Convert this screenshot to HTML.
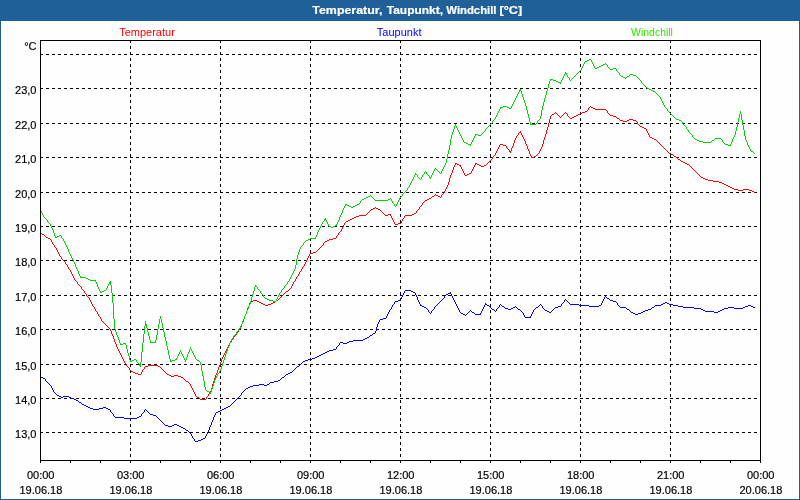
<!DOCTYPE html>
<html lang="de"><head><meta charset="utf-8"><title>Temperatur, Taupunkt, Windchill [°C]</title>
<style>
html,body{margin:0;padding:0;background:#fdfefd;}
body{width:800px;height:500px;overflow:hidden;}
svg{display:block;}
text{font-family:"Liberation Sans",sans-serif;font-size:11px;}
.t{font-weight:bold;fill:#fff;stroke:#fff;stroke-width:0.2px;}
.k text{fill:#000;stroke:#000;stroke-width:0.18px;}
.g{stroke:#000;stroke-width:1;stroke-dasharray:3 3;fill:none;}
.a{stroke:#000;stroke-width:1;fill:none;}
</style></head><body>
<svg width="800" height="500" viewBox="0 0 800 500">
<rect x="0" y="0" width="800" height="500" fill="#fdfefd"/>
<rect x="0" y="0" width="800" height="21" fill="#1f6099"/>
<rect x="0" y="20" width="800" height="1" fill="#1e5f96"/>
<rect x="0" y="21" width="1" height="479" fill="#1c5d95"/>
<rect x="799" y="21" width="1" height="479" fill="#1c5d95"/>
<rect x="0" y="499" width="800" height="1" fill="#1c5d95"/>
<text class="t" transform="translate(312.3 14) scale(1.129 1)">Temperatur,</text>
<text class="t" transform="translate(386.8 14) scale(1.088 1)">Taupunkt,</text>
<text class="t" transform="translate(446.3 14) scale(1.03 1)">Windchill</text>
<text class="t" transform="translate(499.6 14) scale(1.15 1)">[°C]</text>
<text x="147" y="36" text-anchor="middle" fill="#ff0000">Temperatur</text>
<text x="399.2" y="36" text-anchor="middle" fill="#0000ff">Taupunkt</text>
<text transform="translate(652 36) scale(0.95 1)" x="0" y="0" text-anchor="middle" fill="#2fe400">Windchill</text>
<g shape-rendering="crispEdges">
<line class="g" x1="40" y1="54.5" x2="761" y2="54.5"/>
<line class="g" x1="40" y1="88.5" x2="761" y2="88.5"/>
<line class="g" x1="40" y1="123.5" x2="761" y2="123.5"/>
<line class="g" x1="40" y1="157.5" x2="761" y2="157.5"/>
<line class="g" x1="40" y1="192.5" x2="761" y2="192.5"/>
<line class="g" x1="40" y1="226.5" x2="761" y2="226.5"/>
<line class="g" x1="40" y1="260.5" x2="761" y2="260.5"/>
<line class="g" x1="40" y1="295.5" x2="761" y2="295.5"/>
<line class="g" x1="40" y1="329.5" x2="761" y2="329.5"/>
<line class="g" x1="40" y1="364.5" x2="761" y2="364.5"/>
<line class="g" x1="40" y1="398.5" x2="761" y2="398.5"/>
<line class="g" x1="40" y1="432.5" x2="761" y2="432.5"/>
<line class="g" x1="130.5" y1="40" x2="130.5" y2="461"/>
<line class="g" x1="220.5" y1="40" x2="220.5" y2="461"/>
<line class="g" x1="310.5" y1="40" x2="310.5" y2="461"/>
<line class="g" x1="400.5" y1="40" x2="400.5" y2="461"/>
<line class="g" x1="490.5" y1="40" x2="490.5" y2="461"/>
<line class="g" x1="580.5" y1="40" x2="580.5" y2="461"/>
<line class="g" x1="670.5" y1="40" x2="670.5" y2="461"/>
<rect x="40" y="460" width="1" height="3" fill="#000"/>
<rect x="70" y="460" width="1" height="3" fill="#000"/>
<rect x="100" y="460" width="1" height="3" fill="#000"/>
<rect x="130" y="460" width="1" height="3" fill="#000"/>
<rect x="160" y="460" width="1" height="3" fill="#000"/>
<rect x="190" y="460" width="1" height="3" fill="#000"/>
<rect x="220" y="460" width="1" height="3" fill="#000"/>
<rect x="250" y="460" width="1" height="3" fill="#000"/>
<rect x="280" y="460" width="1" height="3" fill="#000"/>
<rect x="310" y="460" width="1" height="3" fill="#000"/>
<rect x="340" y="460" width="1" height="3" fill="#000"/>
<rect x="370" y="460" width="1" height="3" fill="#000"/>
<rect x="400" y="460" width="1" height="3" fill="#000"/>
<rect x="430" y="460" width="1" height="3" fill="#000"/>
<rect x="460" y="460" width="1" height="3" fill="#000"/>
<rect x="490" y="460" width="1" height="3" fill="#000"/>
<rect x="520" y="460" width="1" height="3" fill="#000"/>
<rect x="550" y="460" width="1" height="3" fill="#000"/>
<rect x="580" y="460" width="1" height="3" fill="#000"/>
<rect x="610" y="460" width="1" height="3" fill="#000"/>
<rect x="640" y="460" width="1" height="3" fill="#000"/>
<rect x="670" y="460" width="1" height="3" fill="#000"/>
<rect x="700" y="460" width="1" height="3" fill="#000"/>
<rect x="730" y="460" width="1" height="3" fill="#000"/>
<rect x="760" y="460" width="1" height="3" fill="#000"/>
<path fill="#ff0000" d="M40 232h1v1h-1zM41 233h1v1h-1zM42 234h2v1h-2zM44 235h1v1h-1zM45 236h1v1h-1zM46 237h2v1h-2zM48 238h2v1h-2zM50 239h1v1h-1zM51 240h1v2h-1zM52 242h1v2h-1zM53 244h1v1h-1zM54 245h1v2h-1zM55 247h1v1h-1zM56 248h1v2h-1zM57 250h1v2h-1zM58 252h1v2h-1zM59 254h1v2h-1zM60 256h1v1h-1zM61 257h1v2h-1zM62 259h1v1h-1zM63 260h1v1h-1zM64 261h1v1h-1zM65 262h1v2h-1zM66 264h1v1h-1zM67 265h1v2h-1zM68 267h1v2h-1zM69 269h1v1h-1zM70 270h1v2h-1zM71 272h1v2h-1zM72 274h1v2h-1zM73 276h1v2h-1zM74 278h1v2h-1zM75 280h1v1h-1zM76 281h1v1h-1zM77 282h1v2h-1zM78 284h1v1h-1zM79 285h1v1h-1zM80 286h1v1h-1zM81 287h1v2h-1zM82 289h1v1h-1zM83 290h1v1h-1zM84 291h1v2h-1zM85 293h1v1h-1zM86 294h1v2h-1zM87 296h1v1h-1zM88 297h1v1h-1zM89 298h1v2h-1zM90 300h1v2h-1zM91 302h1v2h-1zM92 304h1v2h-1zM93 306h1v1h-1zM94 307h1v2h-1zM95 309h1v2h-1zM96 311h1v1h-1zM97 312h1v2h-1zM98 314h1v2h-1zM99 316h1v1h-1zM100 317h1v2h-1zM101 319h1v2h-1zM102 321h1v1h-1zM103 322h1v1h-1zM104 323h1v1h-1zM105 324h1v1h-1zM106 325h1v1h-1zM107 326h1v1h-1zM108 327h1v1h-1zM109 328h1v1h-1zM110 329h1v2h-1zM111 331h1v3h-1zM112 334h1v2h-1zM113 336h1v3h-1zM114 339h1v3h-1zM115 342h1v2h-1zM116 344h1v3h-1zM117 347h1v2h-1zM118 349h1v2h-1zM119 351h1v2h-1zM120 353h1v2h-1zM121 355h1v2h-1zM122 357h1v2h-1zM123 359h1v2h-1zM124 361h1v2h-1zM125 363h1v1h-1zM126 364h1v2h-1zM127 366h1v1h-1zM128 367h1v1h-1zM129 368h1v2h-1zM130 370h1v1h-1zM131 371h2v1h-2zM133 372h2v1h-2zM135 373h3v1h-3zM138 374h3v1h-3zM141 372h1v2h-1zM142 370h1v2h-1zM143 369h1v1h-1zM144 367h1v2h-1zM145 366h3v1h-3zM148 365h10v1h-10zM158 366h2v1h-2zM160 367h1v1h-1zM161 368h1v1h-1zM162 369h1v1h-1zM163 370h1v1h-1zM164 371h1v1h-1zM165 372h1v1h-1zM166 373h1v1h-1zM167 374h2v1h-2zM169 375h2v1h-2zM171 376h3v1h-3zM174 375h4v1h-4zM178 376h3v1h-3zM181 377h2v1h-2zM183 378h1v1h-1zM184 379h1v1h-1zM185 380h1v1h-1zM186 381h2v1h-2zM188 382h1v1h-1zM189 383h1v1h-1zM190 384h1v2h-1zM191 386h1v2h-1zM192 388h1v2h-1zM193 390h1v2h-1zM194 392h1v2h-1zM195 394h1v2h-1zM196 396h1v1h-1zM197 397h2v1h-2zM199 398h1v1h-1zM200 399h6v1h-6zM206 397h1v2h-1zM207 396h1v1h-1zM208 394h1v2h-1zM209 393h1v1h-1zM210 391h1v2h-1zM211 388h1v3h-1zM212 384h1v4h-1zM213 381h1v3h-1zM214 378h1v3h-1zM215 375h1v3h-1zM216 373h1v2h-1zM217 370h1v3h-1zM218 367h1v3h-1zM219 365h1v2h-1zM220 362h1v3h-1zM221 359h1v3h-1zM222 357h1v2h-1zM223 355h1v2h-1zM224 353h1v2h-1zM225 351h1v2h-1zM226 349h1v2h-1zM227 347h1v2h-1zM228 345h1v2h-1zM229 343h1v2h-1zM230 342h1v1h-1zM231 340h1v2h-1zM232 339h1v1h-1zM233 337h1v2h-1zM234 336h1v1h-1zM235 335h1v1h-1zM236 333h1v2h-1zM237 332h1v1h-1zM238 330h1v2h-1zM239 329h1v1h-1zM240 327h1v2h-1zM241 324h1v3h-1zM242 322h1v2h-1zM243 319h1v3h-1zM244 316h1v3h-1zM245 314h1v2h-1zM246 311h1v3h-1zM247 308h1v3h-1zM248 306h1v2h-1zM249 303h1v3h-1zM250 301h3v1h-3zM250 302h1v1h-1zM253 300h4v1h-4zM257 301h2v1h-2zM259 302h2v1h-2zM261 303h2v1h-2zM263 304h2v1h-2zM265 305h3v1h-3zM268 304h3v1h-3zM271 303h2v1h-2zM273 302h2v1h-2zM275 301h1v1h-1zM276 300h2v1h-2zM278 299h1v1h-1zM279 298h1v1h-1zM280 297h1v1h-1zM281 296h1v1h-1zM282 295h1v1h-1zM283 294h1v1h-1zM284 293h1v1h-1zM285 292h1v1h-1zM286 291h2v1h-2zM288 290h1v1h-1zM289 289h1v1h-1zM290 288h1v1h-1zM291 286h1v2h-1zM292 284h1v2h-1zM293 282h1v2h-1zM294 281h1v1h-1zM295 279h1v2h-1zM296 277h1v2h-1zM297 276h1v1h-1zM298 274h1v2h-1zM299 272h1v2h-1zM300 271h1v1h-1zM301 269h1v2h-1zM302 267h1v2h-1zM303 266h1v1h-1zM304 264h1v2h-1zM305 262h1v2h-1zM306 260h1v2h-1zM307 258h1v2h-1zM308 256h1v2h-1zM309 254h1v2h-1zM310 253h3v1h-3zM313 252h3v1h-3zM316 251h1v1h-1zM317 250h1v1h-1zM318 249h1v1h-1zM319 248h1v1h-1zM320 247h1v1h-1zM321 246h1v1h-1zM322 245h1v1h-1zM323 243h1v2h-1zM324 242h1v1h-1zM325 241h2v1h-2zM327 240h2v1h-2zM329 239h4v1h-4zM333 238h3v1h-3zM336 236h1v2h-1zM337 235h1v1h-1zM338 233h1v2h-1zM339 232h1v1h-1zM340 231h1v1h-1zM341 229h1v2h-1zM342 227h1v2h-1zM343 225h1v2h-1zM344 223h1v2h-1zM345 222h1v1h-1zM346 221h2v1h-2zM348 220h2v1h-2zM350 219h2v1h-2zM352 218h2v1h-2zM354 217h2v1h-2zM356 216h3v1h-3zM359 215h7v1h-7zM366 214h1v1h-1zM367 213h1v1h-1zM368 212h1v1h-1zM369 211h1v1h-1zM370 210h1v1h-1zM371 209h2v1h-2zM373 208h2v1h-2zM375 207h1v1h-1zM376 208h2v1h-2zM378 209h2v1h-2zM380 210h1v1h-1zM381 211h1v1h-1zM382 212h1v1h-1zM383 213h1v1h-1zM384 214h1v1h-1zM385 215h3v1h-3zM388 214h3v1h-3zM390 215h1v1h-1zM391 216h1v2h-1zM392 218h1v2h-1zM393 220h1v2h-1zM394 222h1v2h-1zM395 224h3v1h-3zM398 223h3v1h-3zM401 221h1v2h-1zM402 219h1v2h-1zM403 218h1v1h-1zM404 216h1v2h-1zM405 215h7v1h-7zM412 214h2v1h-2zM414 213h2v1h-2zM416 211h1v2h-1zM417 210h1v1h-1zM418 209h1v1h-1zM419 207h1v2h-1zM420 206h1v1h-1zM421 205h1v1h-1zM422 203h1v2h-1zM423 202h1v1h-1zM424 201h1v1h-1zM425 200h2v1h-2zM427 199h2v1h-2zM429 198h2v1h-2zM431 197h1v1h-1zM432 196h2v1h-2zM434 195h1v1h-1zM435 194h1v1h-1zM436 195h2v1h-2zM438 196h2v1h-2zM440 197h1v1h-1zM441 195h1v2h-1zM442 194h1v1h-1zM443 193h1v1h-1zM444 191h1v2h-1zM445 189h1v2h-1zM446 187h1v2h-1zM447 185h1v2h-1zM448 182h1v3h-1zM449 178h1v4h-1zM450 175h1v3h-1zM451 173h1v2h-1zM452 170h1v3h-1zM453 167h1v3h-1zM454 165h1v2h-1zM455 163h2v1h-2zM455 164h1v1h-1zM457 164h2v1h-2zM459 165h2v1h-2zM460 166h1v1h-1zM461 167h1v2h-1zM462 169h1v2h-1zM463 171h1v2h-1zM464 173h1v2h-1zM465 175h2v1h-2zM467 174h2v1h-2zM469 173h2v1h-2zM471 171h1v2h-1zM472 169h1v2h-1zM473 167h1v2h-1zM474 165h1v2h-1zM475 163h2v1h-2zM475 164h1v1h-1zM477 164h2v1h-2zM479 165h2v1h-2zM481 166h3v1h-3zM484 165h2v1h-2zM486 164h1v1h-1zM487 163h1v1h-1zM488 162h1v1h-1zM489 161h1v1h-1zM490 160h1v1h-1zM491 159h1v1h-1zM492 157h1v2h-1zM493 156h1v1h-1zM494 155h1v1h-1zM495 153h1v2h-1zM496 151h1v2h-1zM497 149h1v2h-1zM498 147h1v2h-1zM499 145h1v2h-1zM500 144h3v1h-3zM503 145h3v1h-3zM506 146h1v2h-1zM507 148h1v1h-1zM508 149h1v1h-1zM509 150h1v1h-1zM509 151h2v1h-2zM510 152h1v1h-1zM511 148h1v3h-1zM512 146h1v2h-1zM513 143h1v3h-1zM514 140h1v3h-1zM515 138h1v2h-1zM516 136h1v2h-1zM517 135h1v1h-1zM518 133h1v2h-1zM519 132h2v1h-2zM520 131h1v1h-1zM521 133h1v2h-1zM522 135h1v2h-1zM523 137h1v2h-1zM524 139h1v2h-1zM525 141h1v3h-1zM526 144h1v2h-1zM527 146h1v3h-1zM528 149h1v2h-1zM529 151h1v3h-1zM530 154h1v2h-1zM531 156h1v1h-1zM531 157h3v1h-3zM534 156h2v1h-2zM536 155h1v1h-1zM537 154h1v1h-1zM538 153h1v1h-1zM539 151h1v2h-1zM540 149h1v2h-1zM541 147h1v2h-1zM542 144h1v3h-1zM543 140h1v4h-1zM544 137h1v3h-1zM545 134h1v3h-1zM546 130h1v4h-1zM547 127h1v3h-1zM548 123h1v4h-1zM549 119h1v4h-1zM550 116h1v3h-1zM551 115h1v1h-1zM552 114h2v1h-2zM554 113h1v1h-1zM555 112h1v1h-1zM556 113h1v1h-1zM557 114h1v1h-1zM558 115h1v1h-1zM559 116h1v1h-1zM560 117h1v1h-1zM561 116h1v1h-1zM562 115h1v1h-1zM563 114h1v1h-1zM564 113h1v1h-1zM565 112h1v1h-1zM566 113h1v1h-1zM567 114h1v2h-1zM568 116h1v1h-1zM569 117h1v1h-1zM570 118h2v1h-2zM572 117h2v1h-2zM574 116h2v1h-2zM576 115h2v1h-2zM578 114h2v1h-2zM580 113h2v1h-2zM582 112h3v1h-3zM585 111h2v1h-2zM587 110h1v1h-1zM588 108h1v2h-1zM589 107h1v1h-1zM590 106h1v1h-1zM591 107h2v1h-2zM593 108h2v1h-2zM595 109h11v1h-11zM606 110h1v1h-1zM607 111h1v2h-1zM608 113h1v1h-1zM609 114h1v1h-1zM610 115h3v1h-3zM613 116h3v1h-3zM616 117h1v1h-1zM617 118h2v1h-2zM619 119h1v1h-1zM620 120h3v1h-3zM623 121h4v1h-4zM627 120h2v1h-2zM629 119h4v1h-4zM633 120h3v1h-3zM636 121h1v1h-1zM637 122h1v2h-1zM638 124h1v1h-1zM639 125h1v1h-1zM640 126h2v1h-2zM642 127h2v1h-2zM644 128h2v1h-2zM646 129h1v2h-1zM647 131h1v2h-1zM648 133h1v2h-1zM649 135h1v2h-1zM650 137h2v1h-2zM652 138h2v1h-2zM654 139h2v1h-2zM656 140h1v1h-1zM657 141h1v1h-1zM658 142h1v1h-1zM659 143h1v1h-1zM660 144h1v1h-1zM661 145h1v1h-1zM662 146h1v1h-1zM663 147h1v1h-1zM664 148h1v1h-1zM665 149h1v1h-1zM666 150h1v1h-1zM667 151h1v1h-1zM668 152h1v1h-1zM669 153h2v1h-2zM671 154h2v1h-2zM673 155h1v1h-1zM674 156h2v1h-2zM676 157h1v1h-1zM677 158h1v1h-1zM678 159h2v1h-2zM680 160h1v1h-1zM681 161h2v1h-2zM683 162h2v1h-2zM685 163h2v1h-2zM687 164h2v1h-2zM689 165h1v1h-1zM690 166h1v1h-1zM691 167h1v1h-1zM692 168h1v1h-1zM693 169h1v1h-1zM694 170h1v1h-1zM695 171h1v1h-1zM696 172h1v1h-1zM697 173h1v1h-1zM698 174h1v1h-1zM699 175h1v1h-1zM700 176h1v1h-1zM701 177h2v1h-2zM703 178h2v1h-2zM705 179h3v1h-3zM708 180h5v1h-5zM713 181h6v1h-6zM719 182h3v1h-3zM722 183h2v1h-2zM724 184h2v1h-2zM726 185h2v1h-2zM728 186h2v1h-2zM730 187h2v1h-2zM732 188h2v1h-2zM734 189h4v1h-4zM738 190h5v1h-5zM743 189h6v1h-6zM749 190h3v1h-3zM752 191h2v1h-2zM754 192h1v1h-1z"/>
<path fill="#0000ff" d="M40 377h3v1h-3zM43 378h2v1h-2zM45 379h1v2h-1zM46 381h1v1h-1zM47 382h1v1h-1zM48 383h1v1h-1zM49 384h1v1h-1zM50 385h1v1h-1zM51 386h1v2h-1zM52 388h1v2h-1zM53 390h1v2h-1zM54 392h1v1h-1zM55 393h1v1h-1zM56 394h1v1h-1zM57 395h2v1h-2zM59 396h2v1h-2zM61 397h2v1h-2zM63 396h6v1h-6zM69 397h2v1h-2zM71 398h3v1h-3zM74 399h2v1h-2zM76 400h2v1h-2zM78 401h1v1h-1zM79 402h2v1h-2zM81 403h1v1h-1zM82 404h2v1h-2zM84 405h2v1h-2zM86 406h2v1h-2zM88 407h2v1h-2zM90 408h3v1h-3zM93 409h6v1h-6zM99 408h4v1h-4zM103 407h3v1h-3zM106 408h2v1h-2zM108 409h2v1h-2zM110 410h1v2h-1zM111 412h1v1h-1zM112 413h1v1h-1zM113 414h1v2h-1zM114 416h1v1h-1zM115 417h9v1h-9zM124 418h13v1h-13zM137 417h2v1h-2zM139 416h2v1h-2zM141 414h1v2h-1zM142 413h1v1h-1zM143 412h1v1h-1zM144 410h1v2h-1zM145 409h1v1h-1zM146 410h1v1h-1zM147 411h1v1h-1zM148 412h1v1h-1zM149 413h1v1h-1zM150 414h3v1h-3zM153 415h3v1h-3zM156 416h1v1h-1zM157 417h1v1h-1zM158 418h1v1h-1zM159 419h1v1h-1zM160 420h1v1h-1zM161 421h1v1h-1zM162 422h1v1h-1zM163 423h1v1h-1zM164 424h1v1h-1zM165 425h3v1h-3zM168 426h4v1h-4zM172 425h2v1h-2zM174 424h3v1h-3zM177 425h2v1h-2zM179 426h2v1h-2zM181 427h2v1h-2zM183 428h2v1h-2zM185 429h1v1h-1zM186 430h2v1h-2zM188 431h1v1h-1zM189 432h1v1h-1zM190 433h1v1h-1zM191 434h1v2h-1zM192 436h1v2h-1zM193 438h1v1h-1zM194 439h1v2h-1zM195 441h3v1h-3zM198 440h3v1h-3zM201 439h2v1h-2zM203 438h2v1h-2zM205 436h1v2h-1zM206 434h1v2h-1zM207 432h1v2h-1zM208 430h1v2h-1zM209 427h1v3h-1zM210 425h1v2h-1zM211 422h1v3h-1zM212 420h1v2h-1zM213 417h1v3h-1zM214 415h1v2h-1zM215 413h1v2h-1zM216 412h2v1h-2zM218 411h2v1h-2zM220 410h2v1h-2zM222 409h2v1h-2zM224 408h2v1h-2zM226 407h2v1h-2zM228 406h2v1h-2zM230 405h1v1h-1zM231 404h1v1h-1zM232 403h1v1h-1zM233 402h1v1h-1zM234 401h1v1h-1zM235 400h1v1h-1zM236 399h1v1h-1zM237 398h1v1h-1zM238 397h1v1h-1zM239 396h1v1h-1zM240 395h1v1h-1zM241 393h1v2h-1zM242 392h1v1h-1zM243 391h1v1h-1zM244 390h1v1h-1zM245 389h1v1h-1zM246 388h2v1h-2zM248 387h2v1h-2zM250 386h3v1h-3zM253 385h6v1h-6zM259 384h5v1h-5zM264 385h3v1h-3zM267 384h2v1h-2zM269 383h1v1h-1zM270 382h4v1h-4zM274 381h4v1h-4zM278 380h2v1h-2zM280 379h1v1h-1zM281 378h1v1h-1zM282 377h2v1h-2zM284 376h1v1h-1zM285 375h1v1h-1zM286 374h2v1h-2zM288 373h2v1h-2zM290 372h2v1h-2zM292 371h1v1h-1zM293 370h1v1h-1zM294 369h1v1h-1zM295 368h1v1h-1zM296 367h1v1h-1zM297 366h2v1h-2zM299 365h1v1h-1zM300 364h1v1h-1zM301 363h1v1h-1zM302 362h1v1h-1zM303 361h2v1h-2zM305 360h3v1h-3zM308 359h4v1h-4zM312 358h3v1h-3zM315 357h2v1h-2zM317 356h2v1h-2zM319 355h2v1h-2zM321 354h2v1h-2zM323 353h2v1h-2zM325 352h2v1h-2zM327 351h2v1h-2zM329 350h4v1h-4zM333 349h3v1h-3zM336 347h1v2h-1zM337 346h1v1h-1zM338 345h1v1h-1zM339 343h1v2h-1zM340 342h3v1h-3zM343 343h4v1h-4zM347 342h2v1h-2zM349 341h4v1h-4zM353 340h10v1h-10zM363 339h2v1h-2zM365 338h2v1h-2zM367 337h2v1h-2zM369 336h1v1h-1zM370 335h2v1h-2zM372 334h1v1h-1zM373 333h2v1h-2zM375 331h1v2h-1zM376 327h1v4h-1zM377 324h1v3h-1zM378 322h1v2h-1zM379 320h1v2h-1zM380 319h3v1h-3zM383 318h3v1h-3zM386 316h1v2h-1zM387 314h1v2h-1zM388 312h1v2h-1zM389 310h1v2h-1zM390 309h1v1h-1zM391 307h1v2h-1zM392 305h1v2h-1zM393 304h1v1h-1zM394 302h1v2h-1zM395 301h3v1h-3zM398 300h3v1h-3zM400 299h1v1h-1zM401 297h1v2h-1zM402 295h1v2h-1zM403 293h1v2h-1zM404 291h1v2h-1zM405 290h6v1h-6zM411 291h2v1h-2zM413 292h2v1h-2zM415 293h1v2h-1zM416 295h1v2h-1zM417 297h1v3h-1zM418 300h1v2h-1zM419 302h1v2h-1zM420 304h1v1h-1zM420 305h2v1h-2zM422 306h2v1h-2zM424 307h2v1h-2zM426 308h1v1h-1zM427 309h1v1h-1zM428 310h1v2h-1zM429 312h1v1h-1zM430 313h1v1h-1zM431 311h1v2h-1zM432 310h1v1h-1zM433 309h1v1h-1zM434 307h1v2h-1zM435 306h1v1h-1zM436 305h1v1h-1zM437 304h1v1h-1zM438 303h1v1h-1zM439 302h1v1h-1zM440 301h1v1h-1zM441 300h1v1h-1zM442 299h1v1h-1zM443 298h1v1h-1zM444 296h1v2h-1zM445 295h1v1h-1zM446 294h2v1h-2zM448 293h3v1h-3zM450 292h1v1h-1zM451 294h1v2h-1zM452 296h1v2h-1zM453 298h1v2h-1zM454 300h1v2h-1zM455 302h1v2h-1zM456 304h1v2h-1zM457 306h1v2h-1zM458 308h1v2h-1zM459 310h1v2h-1zM460 312h1v1h-1zM461 313h2v1h-2zM463 314h2v1h-2zM465 315h1v1h-1zM466 314h1v1h-1zM467 313h1v1h-1zM468 312h1v1h-1zM469 311h1v1h-1zM470 310h1v1h-1zM471 311h1v1h-1zM472 312h2v1h-2zM474 313h1v1h-1zM475 314h6v1h-6zM480 313h1v1h-1zM481 311h1v2h-1zM482 309h1v2h-1zM483 307h1v2h-1zM484 305h1v2h-1zM485 303h1v1h-1zM485 304h2v1h-2zM487 305h2v1h-2zM489 306h1v1h-1zM490 307h1v1h-1zM491 308h1v1h-1zM492 309h2v1h-2zM494 310h1v1h-1zM495 311h1v1h-1zM496 309h1v2h-1zM497 308h1v1h-1zM498 307h1v1h-1zM499 305h1v2h-1zM500 304h1v1h-1zM501 305h1v1h-1zM502 306h2v1h-2zM504 307h1v1h-1zM505 308h3v1h-3zM508 309h3v1h-3zM511 308h2v1h-2zM513 307h2v1h-2zM515 306h1v1h-1zM516 307h1v1h-1zM517 308h1v1h-1zM518 309h2v1h-2zM520 310h1v1h-1zM521 311h1v1h-1zM522 312h1v1h-1zM523 313h1v2h-1zM524 315h1v2h-1zM525 317h6v1h-6zM530 316h1v1h-1zM531 314h1v2h-1zM532 312h1v2h-1zM533 310h1v2h-1zM534 309h1v1h-1zM535 308h1v1h-1zM536 307h2v1h-2zM538 306h1v1h-1zM539 305h1v1h-1zM540 304h1v1h-1zM541 305h1v1h-1zM542 306h1v2h-1zM543 308h1v1h-1zM544 309h1v1h-1zM545 310h2v1h-2zM547 311h2v1h-2zM549 312h2v1h-2zM551 311h1v1h-1zM552 310h1v1h-1zM553 309h1v1h-1zM554 308h1v1h-1zM555 307h3v1h-3zM558 306h3v1h-3zM561 304h1v2h-1zM562 303h1v1h-1zM563 302h1v1h-1zM564 300h1v2h-1zM565 299h1v1h-1zM566 300h1v1h-1zM567 301h1v1h-1zM568 302h1v1h-1zM569 303h1v1h-1zM570 304h9v1h-9zM579 305h10v1h-10zM589 306h10v1h-10zM599 305h2v1h-2zM601 303h1v2h-1zM602 301h1v2h-1zM603 299h1v2h-1zM604 297h1v2h-1zM605 296h1v1h-1zM606 297h1v1h-1zM607 298h2v1h-2zM609 299h1v1h-1zM610 300h3v1h-3zM613 301h3v1h-3zM616 302h1v1h-1zM617 303h1v2h-1zM618 305h1v1h-1zM619 306h1v1h-1zM620 307h6v1h-6zM626 308h1v1h-1zM627 309h2v1h-2zM629 310h1v1h-1zM630 311h1v1h-1zM631 312h2v1h-2zM633 313h2v1h-2zM635 314h3v1h-3zM638 313h3v1h-3zM641 312h2v1h-2zM643 311h2v1h-2zM645 310h3v1h-3zM648 309h3v1h-3zM651 308h1v1h-1zM652 307h2v1h-2zM654 306h1v1h-1zM655 305h6v1h-6zM661 304h2v1h-2zM663 303h2v1h-2zM665 302h2v1h-2zM667 303h2v1h-2zM669 304h4v1h-4zM673 305h5v1h-5zM678 306h5v1h-5zM683 307h11v1h-11zM694 308h7v1h-7zM701 309h2v1h-2zM703 310h2v1h-2zM705 311h9v1h-9zM714 312h4v1h-4zM718 311h2v1h-2zM720 310h2v1h-2zM722 309h2v1h-2zM724 308h4v1h-4zM728 307h6v1h-6zM734 308h9v1h-9zM743 307h2v1h-2zM745 306h3v1h-3zM748 305h3v1h-3zM751 306h2v1h-2zM753 307h2v1h-2z"/>
<path fill="#04d008" d="M40 210h1v1h-1zM41 211h1v2h-1zM42 213h1v2h-1zM43 215h1v2h-1zM44 217h1v1h-1zM45 218h1v1h-1zM46 219h1v1h-1zM47 220h1v2h-1zM48 222h1v1h-1zM49 223h1v1h-1zM50 224h1v2h-1zM51 226h1v2h-1zM52 228h1v2h-1zM53 230h1v3h-1zM54 233h1v3h-1zM55 236h1v1h-1zM55 237h2v1h-2zM57 236h2v1h-2zM59 235h2v1h-2zM61 236h1v2h-1zM62 238h1v1h-1zM63 239h1v2h-1zM64 241h1v2h-1zM65 243h1v2h-1zM66 245h1v2h-1zM67 247h1v2h-1zM68 249h1v3h-1zM69 252h1v2h-1zM70 254h1v2h-1zM71 256h1v2h-1zM72 258h1v2h-1zM73 260h1v2h-1zM74 262h1v2h-1zM75 264h1v3h-1zM76 267h1v2h-1zM77 269h1v2h-1zM78 271h1v3h-1zM79 274h1v2h-1zM80 276h1v1h-1zM80 277h6v1h-6zM86 278h2v1h-2zM88 279h2v1h-2zM90 280h6v1h-6zM95 281h1v1h-1zM96 282h1v2h-1zM97 284h1v3h-1zM98 287h1v2h-1zM99 289h1v2h-1zM100 291h1v1h-1zM100 292h2v1h-2zM102 291h2v1h-2zM104 290h2v1h-2zM106 288h1v2h-1zM107 286h1v2h-1zM108 284h1v2h-1zM109 282h2v1h-2zM109 283h2v1h-2zM110 281h1v1h-1zM110 284h1v1h-1zM111 285h1v8h-1zM112 293h1v10h-1zM113 303h1v16h-1zM114 319h1v10h-1zM115 329h1v3h-1zM116 332h1v3h-1zM117 335h1v2h-1zM118 337h1v3h-1zM119 340h1v3h-1zM120 343h1v1h-1zM120 344h3v1h-3zM123 343h3v1h-3zM125 344h1v1h-1zM126 345h1v4h-1zM127 349h1v4h-1zM128 353h1v3h-1zM129 356h1v4h-1zM130 360h1v1h-1zM130 361h2v1h-2zM132 360h2v1h-2zM134 359h2v1h-2zM136 360h1v2h-1zM137 362h1v1h-1zM138 363h1v1h-1zM139 364h2v1h-2zM139 365h2v1h-2zM140 362h1v2h-1zM140 366h1v1h-1zM141 352h1v10h-1zM142 343h1v9h-1zM143 334h1v9h-1zM144 326h1v8h-1zM145 321h1v3h-1zM145 324h2v1h-2zM145 325h2v1h-2zM146 326h1v2h-1zM147 328h1v4h-1zM148 332h1v4h-1zM149 336h1v4h-1zM150 340h1v2h-1zM150 342h6v1h-6zM155 340h1v2h-1zM156 335h1v5h-1zM157 329h1v6h-1zM158 324h1v5h-1zM159 319h1v5h-1zM160 316h1v3h-1zM161 319h1v4h-1zM162 323h1v5h-1zM163 328h1v4h-1zM164 332h1v5h-1zM165 337h1v4h-1zM166 341h1v5h-1zM167 346h1v4h-1zM168 350h1v5h-1zM169 355h1v4h-1zM170 359h1v2h-1zM170 361h2v1h-2zM172 360h3v1h-3zM175 359h2v1h-2zM176 358h1v1h-1zM177 356h1v2h-1zM178 354h1v2h-1zM179 352h1v2h-1zM180 350h1v2h-1zM181 352h1v2h-1zM182 354h1v2h-1zM183 356h1v2h-1zM184 358h1v2h-1zM185 360h1v2h-1zM186 357h1v3h-1zM187 354h1v3h-1zM188 352h1v2h-1zM189 349h1v3h-1zM190 347h1v2h-1zM191 349h1v2h-1zM192 351h1v2h-1zM193 353h1v2h-1zM194 355h1v2h-1zM195 357h1v2h-1zM196 359h1v1h-1zM197 360h2v1h-2zM199 361h1v1h-1zM200 362h1v3h-1zM201 365h1v6h-1zM202 371h1v5h-1zM203 376h1v5h-1zM204 381h1v6h-1zM205 387h1v3h-1zM206 390h1v1h-1zM207 391h2v1h-2zM209 392h2v1h-2zM210 393h1v1h-1zM211 389h1v3h-1zM212 386h1v3h-1zM213 383h1v3h-1zM214 380h1v3h-1zM215 378h1v2h-1zM216 376h1v2h-1zM217 374h1v2h-1zM218 373h1v1h-1zM219 371h1v2h-1zM220 369h1v2h-1zM221 366h1v3h-1zM222 363h1v3h-1zM223 360h1v3h-1zM224 357h1v3h-1zM225 354h1v3h-1zM226 351h1v3h-1zM227 348h1v3h-1zM228 346h1v2h-1zM229 343h1v3h-1zM230 341h1v2h-1zM231 339h1v2h-1zM232 338h1v1h-1zM233 336h1v2h-1zM234 335h1v1h-1zM235 334h1v1h-1zM236 332h1v2h-1zM237 331h1v1h-1zM238 329h1v2h-1zM239 328h1v1h-1zM240 326h1v2h-1zM241 324h1v2h-1zM242 321h1v3h-1zM243 319h1v2h-1zM244 316h1v3h-1zM245 314h1v2h-1zM246 311h1v3h-1zM247 309h1v2h-1zM248 306h1v3h-1zM249 304h1v2h-1zM250 301h1v3h-1zM251 297h1v4h-1zM252 294h1v3h-1zM253 291h1v3h-1zM254 287h1v4h-1zM255 285h1v1h-1zM255 286h2v1h-2zM257 287h1v2h-1zM258 289h1v1h-1zM259 290h1v1h-1zM260 291h1v2h-1zM261 293h1v1h-1zM262 294h1v1h-1zM263 295h1v2h-1zM264 297h1v1h-1zM265 298h2v1h-2zM267 299h2v1h-2zM269 300h4v1h-4zM273 301h3v1h-3zM276 299h1v2h-1zM277 297h1v2h-1zM278 295h1v2h-1zM279 293h1v2h-1zM280 292h1v1h-1zM281 290h1v2h-1zM282 289h1v1h-1zM283 288h1v1h-1zM284 286h1v2h-1zM285 285h1v1h-1zM286 284h1v1h-1zM287 282h1v2h-1zM288 281h1v1h-1zM289 279h1v2h-1zM290 277h1v2h-1zM291 275h1v2h-1zM292 273h1v2h-1zM293 271h1v2h-1zM294 269h1v2h-1zM295 265h1v4h-1zM296 259h1v6h-1zM297 255h1v4h-1zM298 252h1v3h-1zM299 249h1v3h-1zM300 247h1v2h-1zM301 246h1v1h-1zM302 245h1v1h-1zM303 243h1v2h-1zM304 242h1v1h-1zM305 241h1v1h-1zM306 240h2v1h-2zM308 239h2v1h-2zM310 238h6v1h-6zM315 237h1v1h-1zM316 235h1v2h-1zM317 232h1v3h-1zM318 230h1v2h-1zM319 228h1v2h-1zM320 226h1v2h-1zM321 224h1v2h-1zM322 222h1v2h-1zM323 221h1v1h-1zM324 219h2v1h-2zM324 220h1v1h-1zM325 218h1v1h-1zM326 220h1v2h-1zM327 222h1v2h-1zM328 224h1v2h-1zM329 226h2v1h-2zM331 227h2v1h-2zM333 226h2v1h-2zM335 225h2v1h-2zM336 224h1v1h-1zM337 222h1v2h-1zM338 220h1v2h-1zM339 217h1v3h-1zM340 215h1v2h-1zM341 213h1v2h-1zM342 210h1v3h-1zM343 208h1v2h-1zM344 206h1v2h-1zM345 204h2v1h-2zM345 205h1v1h-1zM347 205h2v1h-2zM349 206h2v1h-2zM351 207h2v1h-2zM353 206h2v1h-2zM355 205h2v1h-2zM357 204h2v1h-2zM359 203h1v1h-1zM360 201h1v2h-1zM361 200h1v1h-1zM362 199h2v1h-2zM364 198h2v1h-2zM366 197h2v1h-2zM368 196h2v1h-2zM370 195h1v1h-1zM371 196h1v1h-1zM372 197h1v1h-1zM373 198h1v1h-1zM374 199h1v1h-1zM375 200h13v1h-13zM388 199h2v1h-2zM390 198h1v1h-1zM391 199h1v2h-1zM392 201h1v2h-1zM393 203h1v1h-1zM394 204h1v2h-1zM395 206h1v1h-1zM396 204h1v2h-1zM397 202h1v2h-1zM398 200h1v2h-1zM399 198h1v2h-1zM400 197h1v1h-1zM401 196h1v1h-1zM402 194h1v2h-1zM403 193h1v1h-1zM404 192h1v1h-1zM405 191h1v1h-1zM406 190h1v1h-1zM407 188h1v2h-1zM408 187h1v1h-1zM409 185h1v2h-1zM410 183h1v2h-1zM411 181h1v2h-1zM412 179h1v2h-1zM413 177h1v2h-1zM414 175h1v2h-1zM415 173h1v1h-1zM415 174h2v1h-2zM417 175h1v2h-1zM418 177h1v1h-1zM419 178h1v1h-1zM420 179h1v1h-1zM421 177h1v2h-1zM422 175h1v2h-1zM423 174h1v1h-1zM424 172h1v2h-1zM425 171h1v1h-1zM426 172h1v2h-1zM427 174h1v1h-1zM428 175h1v1h-1zM429 176h1v1h-1zM429 177h2v1h-2zM430 178h1v1h-1zM431 175h1v2h-1zM432 173h1v2h-1zM433 171h1v2h-1zM434 169h1v2h-1zM435 168h1v1h-1zM436 169h1v1h-1zM437 170h1v1h-1zM438 171h1v1h-1zM439 172h1v1h-1zM440 173h1v1h-1zM441 171h1v2h-1zM442 169h1v2h-1zM443 167h1v2h-1zM444 165h1v2h-1zM445 163h1v2h-1zM446 159h1v4h-1zM447 154h1v5h-1zM448 150h1v4h-1zM449 145h1v5h-1zM450 139h1v6h-1zM451 135h1v4h-1zM452 132h1v3h-1zM453 129h1v3h-1zM454 126h1v3h-1zM455 124h1v2h-1zM456 126h1v2h-1zM457 128h1v2h-1zM458 130h1v2h-1zM459 132h1v2h-1zM460 134h1v2h-1zM461 136h1v2h-1zM462 138h1v2h-1zM463 140h1v2h-1zM464 142h2v1h-2zM466 143h2v1h-2zM468 144h3v1h-3zM470 145h1v1h-1zM471 142h1v2h-1zM472 140h1v2h-1zM473 138h1v2h-1zM474 136h1v2h-1zM475 134h3v1h-3zM475 135h1v1h-1zM478 135h3v1h-3zM481 134h1v1h-1zM482 133h1v1h-1zM483 132h1v1h-1zM484 131h1v1h-1zM485 129h1v2h-1zM486 128h1v1h-1zM487 127h1v1h-1zM488 126h1v1h-1zM489 125h1v1h-1zM490 124h1v1h-1zM491 123h1v1h-1zM492 121h1v2h-1zM493 120h1v1h-1zM494 119h1v1h-1zM495 117h1v2h-1zM496 115h1v2h-1zM497 113h1v2h-1zM498 111h1v2h-1zM499 109h1v2h-1zM500 107h3v1h-3zM500 108h1v1h-1zM503 106h4v1h-4zM507 107h2v1h-2zM509 108h2v1h-2zM511 106h1v2h-1zM512 104h1v2h-1zM513 102h1v2h-1zM514 100h1v2h-1zM515 98h1v2h-1zM516 96h1v2h-1zM517 94h1v2h-1zM518 92h1v2h-1zM519 90h2v1h-2zM519 91h1v1h-1zM520 89h1v1h-1zM521 91h1v3h-1zM522 94h1v3h-1zM523 97h1v3h-1zM524 100h1v3h-1zM525 103h1v3h-1zM526 106h1v4h-1zM527 110h1v4h-1zM528 114h1v4h-1zM529 118h1v4h-1zM530 122h1v2h-1zM530 124h6v1h-6zM536 123h1v1h-1zM537 121h1v2h-1zM538 120h1v1h-1zM539 119h1v1h-1zM540 116h1v3h-1zM541 110h1v6h-1zM542 106h1v4h-1zM543 102h1v4h-1zM544 98h1v4h-1zM545 95h1v3h-1zM546 91h1v4h-1zM547 88h1v3h-1zM548 84h1v4h-1zM549 81h1v3h-1zM550 79h3v1h-3zM550 80h1v1h-1zM553 80h3v1h-3zM556 81h2v1h-2zM558 82h3v1h-3zM560 83h1v1h-1zM561 80h1v2h-1zM562 78h1v2h-1zM563 76h1v2h-1zM564 74h1v2h-1zM565 72h1v1h-1zM565 73h2v1h-2zM566 74h1v1h-1zM567 75h1v2h-1zM568 77h1v1h-1zM569 78h1v2h-1zM570 80h1v1h-1zM571 79h1v1h-1zM572 78h1v1h-1zM573 77h1v1h-1zM574 76h1v1h-1zM575 75h1v1h-1zM576 74h1v1h-1zM577 73h1v1h-1zM578 72h1v1h-1zM579 71h1v1h-1zM580 70h1v1h-1zM581 68h1v2h-1zM582 66h1v2h-1zM583 64h1v2h-1zM584 62h1v2h-1zM585 61h2v1h-2zM587 60h2v1h-2zM589 59h2v1h-2zM591 60h1v2h-1zM592 62h1v2h-1zM593 64h1v2h-1zM594 66h1v2h-1zM595 68h2v1h-2zM597 67h2v1h-2zM599 66h2v1h-2zM601 65h2v1h-2zM603 64h2v1h-2zM605 63h1v1h-1zM606 64h1v1h-1zM607 65h1v2h-1zM608 67h1v1h-1zM609 68h1v1h-1zM610 69h3v1h-3zM613 68h3v1h-3zM616 69h1v2h-1zM617 71h1v1h-1zM618 72h1v1h-1zM619 73h1v2h-1zM620 75h1v1h-1zM621 76h2v1h-2zM623 77h2v1h-2zM625 78h1v1h-1zM626 77h1v1h-1zM627 76h2v1h-2zM629 75h1v1h-1zM630 74h3v1h-3zM633 75h3v1h-3zM636 76h1v1h-1zM637 77h1v1h-1zM638 78h1v1h-1zM639 79h1v1h-1zM640 80h1v1h-1zM641 81h1v2h-1zM642 83h1v1h-1zM643 84h1v1h-1zM644 85h1v1h-1zM645 86h1v1h-1zM646 87h1v1h-1zM647 88h2v1h-2zM649 89h2v1h-2zM651 90h2v1h-2zM653 91h2v1h-2zM655 92h1v1h-1zM656 93h1v1h-1zM657 94h1v1h-1zM658 95h1v1h-1zM659 96h1v1h-1zM660 97h1v2h-1zM661 99h1v2h-1zM662 101h1v2h-1zM663 103h1v2h-1zM664 105h1v2h-1zM665 107h1v1h-1zM666 108h1v1h-1zM667 109h1v2h-1zM668 111h1v1h-1zM669 112h1v1h-1zM670 113h1v1h-1zM671 114h1v1h-1zM672 115h1v1h-1zM673 116h1v1h-1zM674 117h1v1h-1zM675 118h1v1h-1zM676 119h3v1h-3zM679 120h2v1h-2zM681 121h1v1h-1zM682 122h1v2h-1zM683 124h1v1h-1zM684 125h1v1h-1zM685 126h1v1h-1zM686 127h1v2h-1zM687 129h1v1h-1zM688 130h1v2h-1zM689 132h1v1h-1zM690 133h1v1h-1zM691 134h1v1h-1zM692 135h1v2h-1zM693 137h1v1h-1zM694 138h1v1h-1zM695 139h2v1h-2zM697 140h2v1h-2zM699 141h4v1h-4zM703 142h8v1h-8zM711 141h1v1h-1zM712 140h2v1h-2zM714 139h1v1h-1zM715 138h6v1h-6zM721 139h1v1h-1zM722 140h1v2h-1zM723 142h1v1h-1zM724 143h1v1h-1zM725 144h3v1h-3zM728 145h3v1h-3zM730 144h1v1h-1zM731 142h1v2h-1zM732 139h1v3h-1zM733 137h1v2h-1zM734 135h1v2h-1zM735 131h1v4h-1zM736 127h1v4h-1zM737 122h1v5h-1zM738 118h1v4h-1zM739 114h1v4h-1zM740 111h1v3h-1zM741 114h1v6h-1zM742 120h1v5h-1zM743 125h1v5h-1zM744 130h1v6h-1zM745 136h1v4h-1zM746 140h1v2h-1zM747 142h1v3h-1zM748 145h1v2h-1zM749 147h1v2h-1zM750 149h1v2h-1zM751 151h2v1h-2zM753 152h1v1h-1zM754 153h1v1h-1z"/>
<rect class="a" x="40.5" y="40.5" width="720" height="420"/>
</g>
<g text-anchor="end" class="k">
<text x="36.5" y="50">°C</text>
<text x="36.5" y="94">23,0</text>
<text x="36.5" y="129">22,0</text>
<text x="36.5" y="163">21,0</text>
<text x="36.5" y="198">20,0</text>
<text x="36.5" y="232">19,0</text>
<text x="36.5" y="266">18,0</text>
<text x="36.5" y="301">17,0</text>
<text x="36.5" y="335">16,0</text>
<text x="36.5" y="370">15,0</text>
<text x="36.5" y="404">14,0</text>
<text x="36.5" y="438">13,0</text>
</g>
<g text-anchor="middle" class="k">
<text x="40.7" y="479">00:00</text>
<text x="40.9" y="494">19.06.18</text>
<text x="130.7" y="479">03:00</text>
<text x="130.9" y="494">19.06.18</text>
<text x="220.7" y="479">06:00</text>
<text x="220.9" y="494">19.06.18</text>
<text x="310.7" y="479">09:00</text>
<text x="310.9" y="494">19.06.18</text>
<text x="400.7" y="479">12:00</text>
<text x="400.9" y="494">19.06.18</text>
<text x="490.7" y="479">15:00</text>
<text x="490.9" y="494">19.06.18</text>
<text x="580.7" y="479">18:00</text>
<text x="580.9" y="494">19.06.18</text>
<text x="670.7" y="479">21:00</text>
<text x="670.9" y="494">19.06.18</text>
<text x="760.7" y="479">00:00</text>
<text x="760.9" y="494">20.06.18</text>
</g>
</svg></body></html>
